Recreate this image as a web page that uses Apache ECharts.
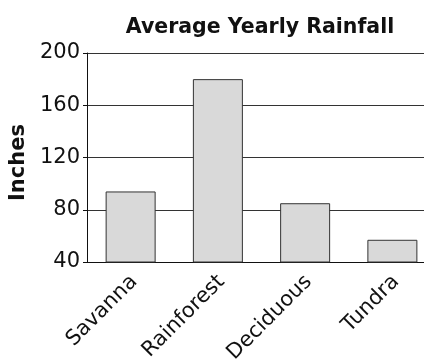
<!DOCTYPE html>
<html>
<head>
<meta charset="utf-8">
<script src="https://cdn.jsdelivr.net/npm/echarts@6/dist/echarts.min.js"></script>
<style>
html,body{margin:0;padding:0;background:#fff;}
#chart{width:424px;height:359px;}
</style>
</head>
<body>
<div id="chart"></div>
<script>
const categories = ["Savanna", "Rainforest", "Deciduous", "Tundra"];
const rainfall = [94, 180, 85, 57];
const yTicks = { min: 40, max: 200, interval: 40 };
const titleText = "Average Yearly Rainfall";
const yName = "Inches";

const FONT = "DejaVu Sans";
const chart = echarts.init(document.getElementById('chart'), null, { renderer: 'canvas' });
chart.setOption({
  animation: false,
  backgroundColor: '#ffffff',
  title: {
    text: titleText,
    left: 255,
    top: 12,
    textAlign: 'center',
    textStyle: { fontFamily: FONT, fontWeight: 'bold', fontSize: 20.5, color: '#111' }
  },
  grid: { left: 87, top: 53, width: 349, height: 209, containLabel: false, outerBoundsMode: 'none' },
  xAxis: {
    type: 'category',
    data: categories,
    axisLine: { show: true, lineStyle: { color: '#111', width: 1 } },
    axisTick: { show: false },
    axisLabel: {
      rotate: 45, margin: 13, interval: 0,
      formatter: function (v) { return '{a|' + v + '}'; },
      rich: { a: { fontFamily: FONT, fontSize: 21, color: '#111', padding: [10, 0, 0, 4] } }
    }
  },
  yAxis: {
    type: 'value',
    min: yTicks.min, max: yTicks.max, interval: yTicks.interval,
    name: yName,
    nameLocation: 'middle',
    nameGap: 56,
    nameTextStyle: { fontFamily: FONT, fontWeight: 'bold', fontSize: 21, color: '#111', padding: [0, 10, 0, 0] },
    axisLine: { show: true, lineStyle: { color: '#111', width: 1 } },
    axisTick: { show: true, inside: false, length: 4, lineStyle: { color: '#111' } },
    axisLabel: { margin: 7, fontFamily: FONT, fontSize: 21, color: '#111' },
    splitLine: { show: true, lineStyle: { color: '#333', width: 1 } }
  },
  series: [{
    type: 'bar',
    data: rainfall,
    barWidth: 50,
    itemStyle: { color: '#d9d9d9', borderColor: '#333', borderWidth: 1 }
  }]
});
</script>
</body>
</html>
